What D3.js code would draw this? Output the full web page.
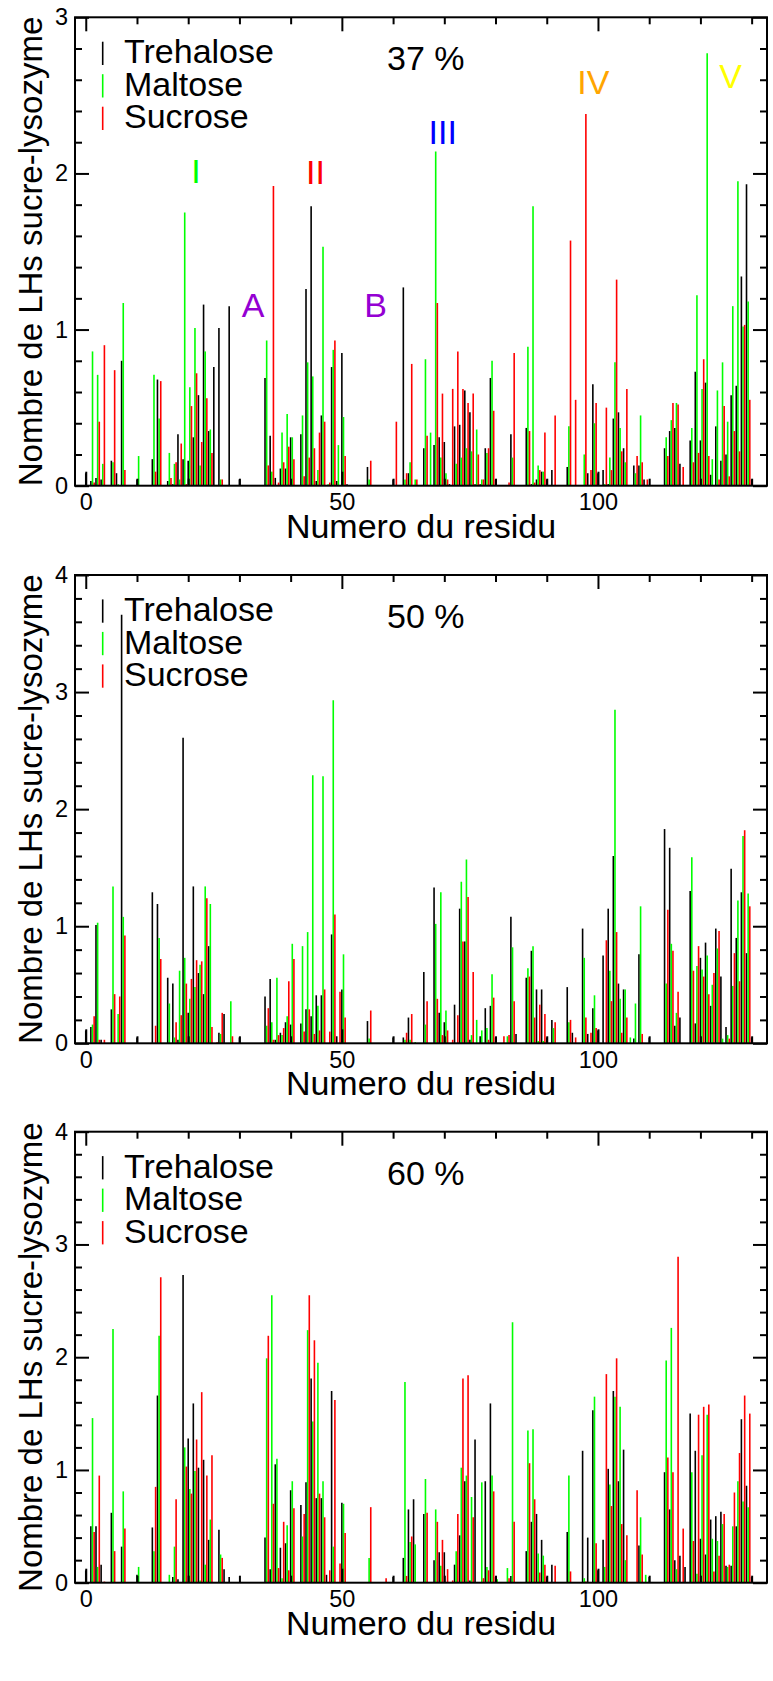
<!DOCTYPE html>
<html>
<head>
<meta charset="utf-8">
<script src="https://cdn.jsdelivr.net/npm/d3@7"></script>
<style>
body { margin: 0; background: #fff; }
svg { display: block; font-family: "Liberation Sans", Arial, Helvetica, sans-serif; }
</style>
</head>
<body>
<svg id="drawing_region"></svg>
<script>
// residue numbers 0..130
const residues = d3.range(0, 131);
const series_names = ["Trehalose", "Maltose", "Sucrose"];
const x_major_ticks = [0, 50, 100];

// 37 %
const tre37 = [
  0.08,0.03,0.05,0.04,0,0.16,0.08,0.80,0,0,
  0.04,0,0,0.17,0.68,0,0.03,0.01,0.33,0.17,
  0.16,0.31,0.58,1.16,0.35,0.76,1.01,0,1.15,0,
  0.04,0,0,0,0,0.69,0.32,0.05,0.11,0.11,
  0.31,0,0.33,1.26,1.79,0.03,0.45,0,0.76,0.03,
  0.85,0.01,0,0,0,0.12,0,0,0,0,
  0.04,0,1.27,0.08,0,0,0.24,0,0.26,0.31,
  0.28,0.01,0.38,0.39,0.61,0.47,0.01,0.01,0.24,0.69,
  0.04,0,0,0.33,0,0,0.37,0.01,0.04,0.09,
  0.04,0.1,0,0,0.12,0,0,0,0.08,0.65,
  0.08,0.1,0.01,0.43,0.47,0.24,0,0.13,0.13,0.04,
  0,0,0,0.24,0.35,0.37,0.14,0,0.29,0.73,
  0.29,0.66,0.07,0.38,0.16,0.2,0.58,0.64,1.34,1.93,
  0.04
];
const mal37 = [
  0,0.86,0.71,0.14,0,0.15,0.01,1.17,0,0,
  0.19,0,0,0.71,0.43,0,0.21,0.14,0.04,1.75,
  0.63,1.01,0.13,0.86,0.36,0,0.04,0,0,0,
  0,0,0,0,0,0.93,0.09,0,0.34,0.46,
  0.31,0,0.45,0.79,0.7,0.1,1.53,0.01,0.87,0.26,
  0.44,0,0,0,0,0.04,0,0,0,0,
  0,0,0.04,0.15,0.04,0,0.81,0.34,2.14,0.18,
  0.08,0,0.14,0.18,0.24,0.22,0.36,0.04,0.21,0.8,
  0,0,0,0.18,0,0,0.89,1.79,0.13,0.09,
  0,0,0,0,0.38,0,0,0.2,0,0.4,
  0,0.01,0.18,0.79,0.37,0.15,0,0.08,0.45,0,
  0,0,0,0.31,0.42,0.53,0,0,0.37,1.22,
  0.62,2.77,0.17,0.61,0.79,0.41,1.15,1.95,1.02,1.18,
  0
];
const suc37 = [
  0,0.02,0.41,0.9,0,0.74,0,0.1,0,0,
  0,0,0,0.09,0.67,0,0.05,0.15,0.27,0.01,
  0.51,0.72,0.28,0.56,0.21,0,0.04,0,0,0,
  0,0,0,0,0,0.13,1.92,0.02,0.15,0.25,
  0.17,0,0.06,0.18,0.24,0.34,0.41,0.02,0.93,0,
  0.19,0,0,0,0,0.16,0,0,0,0,
  0.41,0,0.08,0.78,0.04,0,0.32,0,1.17,0.59,
  0.04,0.62,0.86,0.62,0.53,0.59,0.2,0.04,0.24,0.48,
  0,0,0.02,0.85,0,0,0.35,0.02,0.1,0.34,
  0,0.45,0,0,1.57,0.55,0,2.38,0.1,0.53,
  0,0.5,0.1,1.32,0.22,0.62,0,0.19,0.15,0.04,
  0,0,0,0.19,0.53,0.52,0.12,0,0.15,0.21,
  0.81,0.19,0,0.04,0.51,0.06,0.35,0.22,1.03,0.55,
  0
];

// 50 %
const tre50 = [
  0.11,0.14,1.01,0.03,0,0.29,0,3.66,0,0,
  0.05,0,0,1.29,1.19,0,0.56,0.51,0.03,2.61,
  0.26,1.34,0.6,0.42,0.83,0,0.09,0.25,0,0,
  0.05,0,0,0,0,0.4,0.55,0.03,0.09,0.18,
  0.16,0,0.17,0.29,0.23,0.41,0.41,0,0.93,0.06,
  0.46,0,0,0,0,0.19,0,0,0,0,
  0.05,0,0.05,0.22,0,0,0.61,0,1.33,0.26,
  0.18,0,0.33,1.15,0.87,0.03,0,0.06,0.3,0.32,
  0.05,0,0,1.08,0.08,0,0.56,0.79,0.46,0.46,
  0.05,0.2,0,0,0.48,0.09,0,0.98,0.08,0.3,
  0.11,0.75,1.15,1.6,0.51,0.46,0,0.04,0.76,0,
  0.05,0,0,1.83,1.67,0.15,0.22,0,1.3,0.17,
  0.73,0.86,0.32,0.98,0.57,0.14,1.49,0.9,1.29,0.77,
  0.05
];
const mal50 = [
  0,0.16,1.03,0,0,1.34,0.25,1.08,0,0,
  0,0,0,0,0.9,0,0.34,0.05,0.62,0.73,
  0.38,0.48,0.67,1.34,1.19,0,0.08,0,0.36,0,
  0,0,0,0,0,0.15,0.18,0.56,0.07,0.23,
  0.85,0,0.83,0.95,2.29,0.32,2.28,0,2.93,0,
  0.76,0,0,0,0,0.04,0,0,0,0,
  0,0,0.03,0.03,0.01,0,0.16,0,1.02,1.29,
  0.28,0,0,1.38,1.57,0.07,0.2,0.11,0.13,0.59,
  0,0,0.06,0.82,0,0,0.64,0.83,0.02,0.02,
  0,0.13,0,0,0.18,0,0,0.73,0,0.41,
  0,0,0.62,2.85,0.38,0.46,0.05,0.34,1.17,0,
  0,0,0,0.51,0.85,0.26,0,0,1.59,0.66,
  0.63,0.75,0.5,0.81,0.04,0.07,0.49,1.22,1.77,1.28,
  0
];
const suc50 = [
  0,0.23,0.03,0.03,0,0.42,0.4,0.92,0,0,
  0,0,0,0.15,0.72,0,0,0.18,0.24,0.51,
  0.55,0.71,0.7,1.24,0.14,0.01,0.26,0,0.06,0,
  0,0,0,0,0,0.3,0.03,0.07,0.13,0.53,
  0.72,0,0.1,0.29,0.08,0.11,0.46,0.1,1.1,0.44,
  0.22,0,0,0,0,0.28,0,0,0,0,
  0,0,0.09,0.25,0,0,0.36,0,0.38,0.07,
  0.11,0.03,0.24,0.87,1.25,0.61,0,0,0.03,0.39,
  0,0.06,0.07,0.36,0,0,0.57,0.22,0.33,0.25,
  0,0.18,0,0,0.2,0.05,0,0.22,0.09,0.13,
  0,0.88,0.36,0.95,0.09,0.22,0,0,0.08,0,
  0,0,0,1.14,0.79,0.44,0,0,0.62,0.83,
  0.57,0.42,0.6,0.96,0,0.04,0.77,0.53,1.82,1.17,
  0
];

// 60 %
const tre60 = [
  0.11,0.5,0.5,0.16,0,0.62,0,0.32,0,0,
  0.07,0,0,0.49,1.66,0,0,0.05,0.03,2.73,
  1.28,1.59,1.02,1.09,0.38,0,0.47,0.12,0.05,0,
  0,0,0,0,0,0.4,0.12,1.05,0.31,0.35,
  0.82,0,0.69,0.89,1.81,0.75,0.75,0.07,1.7,0,
  0.71,0,0,0,0,0,0,0,0,0,
  0.05,0,0.22,0.65,0.74,0,0.61,0,0.2,0.27,
  0.27,0,0.16,0.42,0.9,0.02,1.27,0,0.9,1.59,
  0.05,0,0,0.06,0,0,0.28,0.54,0.61,0.38,
  0.05,0.16,0,0,0.45,0,0,1.17,0.4,1.53,
  0.11,0.38,1.01,1.7,0.9,1.18,0,0,0.33,0,
  0.05,0,0,0.98,0.65,0.2,0.24,0.14,1.5,1.17,
  0.39,0.25,0.56,0.59,0.63,0.15,0.15,0.5,1.45,0.86,
  0.05
];
const mal60 = [
  0,1.46,0.14,0,0,2.25,0,0.81,0,0,
  0.14,0,0,0.28,2.19,0,0.07,0.32,0,1.2,
  0.83,0.99,0.02,0.16,0.56,0,0.25,0,0,0,
  0,0,0,0,0,1.99,2.55,1.1,0.04,0.51,
  0.9,0,0.41,2.24,1.43,1.95,0.9,0,0.32,0,
  0.7,0,0,0,0,0.22,0,0,0,0,
  0,0,1.78,0.36,0.34,0,0.92,0,0.65,0.15,
  0,0,0.28,1.02,0.95,0.76,0,0.89,0.14,0.95,
  0.03,0,0.13,2.31,0,0,1.35,1.36,0.26,0.24,
  0,0,0,0,0.95,0,0,0.04,0,1.65,
  0,0.14,0.87,1.65,1.56,0.2,0,0,0.58,0.07,
  0,0,0,1.97,2.26,0.12,0,0,0.98,0.08,
  1.13,1.49,0.39,0.37,0.52,0.14,0.5,0.9,0.72,0.67,
  0
];
const suc60 = [
  0,0.45,0.95,0.01,0,0.28,0,0.48,0,0,
  0,0,0,0.85,2.71,0,0,0.74,0,1.03,
  0.79,1.27,1.69,0.95,1.13,0,0.22,0,0,0,
  0,0,0,0,0,2.19,0.7,0.13,0.54,0.11,
  0.66,0,0.61,2.55,2.15,0.79,0.58,0.11,1.62,0.17,
  0.44,0,0,0,0,0.67,0,0,0.04,0,
  0,0,0.06,0.41,0,0,0.62,0,0.54,0.38,
  0.12,0.02,0.61,1.81,1.84,0.58,0,0.04,0.11,0.81,
  0,0,0.04,0.54,0,0,1.06,0.74,0.09,0.16,
  0,0.15,0,0,0.1,0,0,0.01,0,0.35,
  0,1.85,0.68,1.99,0.52,0.42,0,0.82,0.25,0,
  0,0,0,1.11,0.98,2.89,0.48,0,0.37,1.49,
  1.56,1.58,0.1,0.24,0.61,0.16,0.8,1.15,1.66,1.5,
  0
];

const series_colors = ["#000000", "#00ff00", "#ff0000"];
const series_offsets = [0, 0.32, 0.64];

// annotations of the 37 % panel, in data coordinates
const annotations = [
  {text: "I",   x: 21.5,  y: 1.94, color: "#00ff00"},
  {text: "II",  x: 44.85, y: 1.93, color: "#ff0000"},
  {text: "A",   x: 32.65, y: 1.08, color: "#9400d3"},
  {text: "B",   x: 56.6,  y: 1.08, color: "#9400d3"},
  {text: "III", x: 69.7,  y: 2.19, color: "#0000ff"},
  {text: "IV",  x: 99.1,  y: 2.51, color: "#ffa500"},
  {text: "V",   x: 125.9, y: 2.55, color: "#ffff00"}
];

const svg = d3.select('#drawing_region')
    .attr('width', 773)
    .attr('height', 1681);

class SpikePanel {

    constructor( config, series ) {
        this.config = {
            parent: config.parent,
            left: config.left || 75,
            top: config.top,
            width: config.width || 692,
            height: config.height,
            ymax: config.ymax,
            label: config.label,
            notes: config.notes || []
        }
        this.series = series;
        this.init();
    }

    init() {
        let self = this;

        self.chart = self.config.parent.append('g')
            .attr('transform', `translate(${self.config.left}, ${self.config.top})`);

        self.xscale = d3.scaleLinear()
            .domain( [-2.1, 133] )
            .range( [0, self.config.width] );

        self.yscale = d3.scaleLinear()
            .domain( [0, self.config.ymax] )
            .range( [self.config.height, 0] );
    }

    render() {
        let self = this;
        const w = self.config.width, h = self.config.height;

        // spikes
        self.series.forEach( (values, k) => {
            self.chart.append('g')
                .selectAll('line')
                .data( residues.filter( r => values[r] > 0 ) )
                .join('line')
                .attr('x1', r => self.xscale( r + series_offsets[k] ))
                .attr('x2', r => self.xscale( r + series_offsets[k] ))
                .attr('y1', self.yscale(0))
                .attr('y2', r => self.yscale( values[r] ))
                .attr('stroke', series_colors[k])
                .attr('stroke-width', 1.6);
        });

        // axes: major + minor ticks on all four sides, pointing inward
        const xminor = d3.range(10, 131, 10).filter( v => v % 50 != 0 );
        const ymajor = d3.range(0, self.config.ymax + 0.01, 1);
        const yminor = d3.range(0, self.config.ymax * 5 + 1).map( i => i / 5 ).filter( v => Math.abs(v - Math.round(v)) > 0.01 );

        const axes = [
            [d3.axisBottom(self.xscale).tickValues(x_major_ticks).tickSizeInner(-14).tickPadding(8), `translate(0,${h})`, true],
            [d3.axisBottom(self.xscale).tickValues(xminor).tickSizeInner(-7).tickFormat(''), `translate(0,${h})`, false],
            [d3.axisTop(self.xscale).tickValues(x_major_ticks).tickSizeInner(-14).tickFormat(''), 'translate(0,0)', false],
            [d3.axisTop(self.xscale).tickValues(xminor).tickSizeInner(-7).tickFormat(''), 'translate(0,0)', false],
            [d3.axisLeft(self.yscale).tickValues(ymajor).tickSizeInner(-14).tickPadding(7).tickFormat(d3.format('d')), 'translate(0,0)', true],
            [d3.axisLeft(self.yscale).tickValues(yminor).tickSizeInner(-7).tickFormat(''), 'translate(0,0)', false],
            [d3.axisRight(self.yscale).tickValues(ymajor).tickSizeInner(-14).tickFormat(''), `translate(${w},0)`, false],
            [d3.axisRight(self.yscale).tickValues(yminor).tickSizeInner(-7).tickFormat(''), `translate(${w},0)`, false]
        ];
        axes.forEach( ([axis, tr, labelled]) => {
            const g = self.chart.append('g')
                .attr('transform', tr)
                .call( axis.tickSizeOuter(0) );
            g.select('.domain').remove();
            g.selectAll('.tick line').attr('stroke', '#000').attr('stroke-width', 2);
            if (labelled) {
                g.selectAll('.tick text')
                    .attr('fill', '#000')
                    .attr('font-size', '23.5px')
                    .attr('font-family', '"Liberation Sans", Arial, sans-serif');
            }
        });

        // frame
        self.chart.append('rect')
            .attr('x', 0).attr('y', 0)
            .attr('width', w).attr('height', h)
            .attr('fill', 'none')
            .attr('stroke', '#000')
            .attr('stroke-width', 2);

        // axis titles
        self.chart.append('text')
            .attr('x', w / 2)
            .attr('y', h + 52)
            .attr('text-anchor', 'middle')
            .attr('font-size', '34px')
            .text('Numero du residu');

        self.chart.append('text')
            .attr('transform', `translate(${42 - self.config.left}, ${h / 2}) rotate(-90)`)
            .attr('text-anchor', 'middle')
            .attr('font-size', '33px')
            .text('Nombre de LHs sucre-lysozyme');

        // legend
        const legend = self.chart.append('g')
            .attr('transform', 'translate(0, 46)');
        series_names.forEach( (name, k) => {
            legend.append('line')
                .attr('x1', 27.7).attr('x2', 27.7)
                .attr('y1', k * 32.5 - 21.6)
                .attr('y2', k * 32.5 + 1.7)
                .attr('stroke', series_colors[k])
                .attr('stroke-width', 1.6);
            legend.append('text')
                .attr('x', 49)
                .attr('y', k * 32.5)
                .attr('font-size', '34px')
                .text(name);
        });

        self.chart.append('text')
            .attr('x', 312)
            .attr('y', 53)
            .attr('font-size', '34px')
            .text(self.config.label);

        // annotations
        self.chart.selectAll('text.note')
            .data(self.config.notes)
            .join('text')
            .attr('class', 'note')
            .attr('x', d => self.xscale(d.x))
            .attr('y', d => self.yscale(d.y))
            .attr('text-anchor', 'middle')
            .attr('font-size', '34px')
            .attr('fill', d => d.color)
            .text(d => d.text);
    }
}

const p37 = new SpikePanel( {parent: svg, top: 17.3, height: 468.4, ymax: 3, label: '37 %', notes: annotations}, [tre37, mal37, suc37] );
p37.render();

const p50 = new SpikePanel( {parent: svg, top: 575, height: 468.3, ymax: 4, label: '50 %'}, [tre50, mal50, suc50] );
p50.render();

const p60 = new SpikePanel( {parent: svg, top: 1131.7, height: 451, ymax: 4, label: '60 %'}, [tre60, mal60, suc60] );
p60.render();
</script>
</body>
</html>
